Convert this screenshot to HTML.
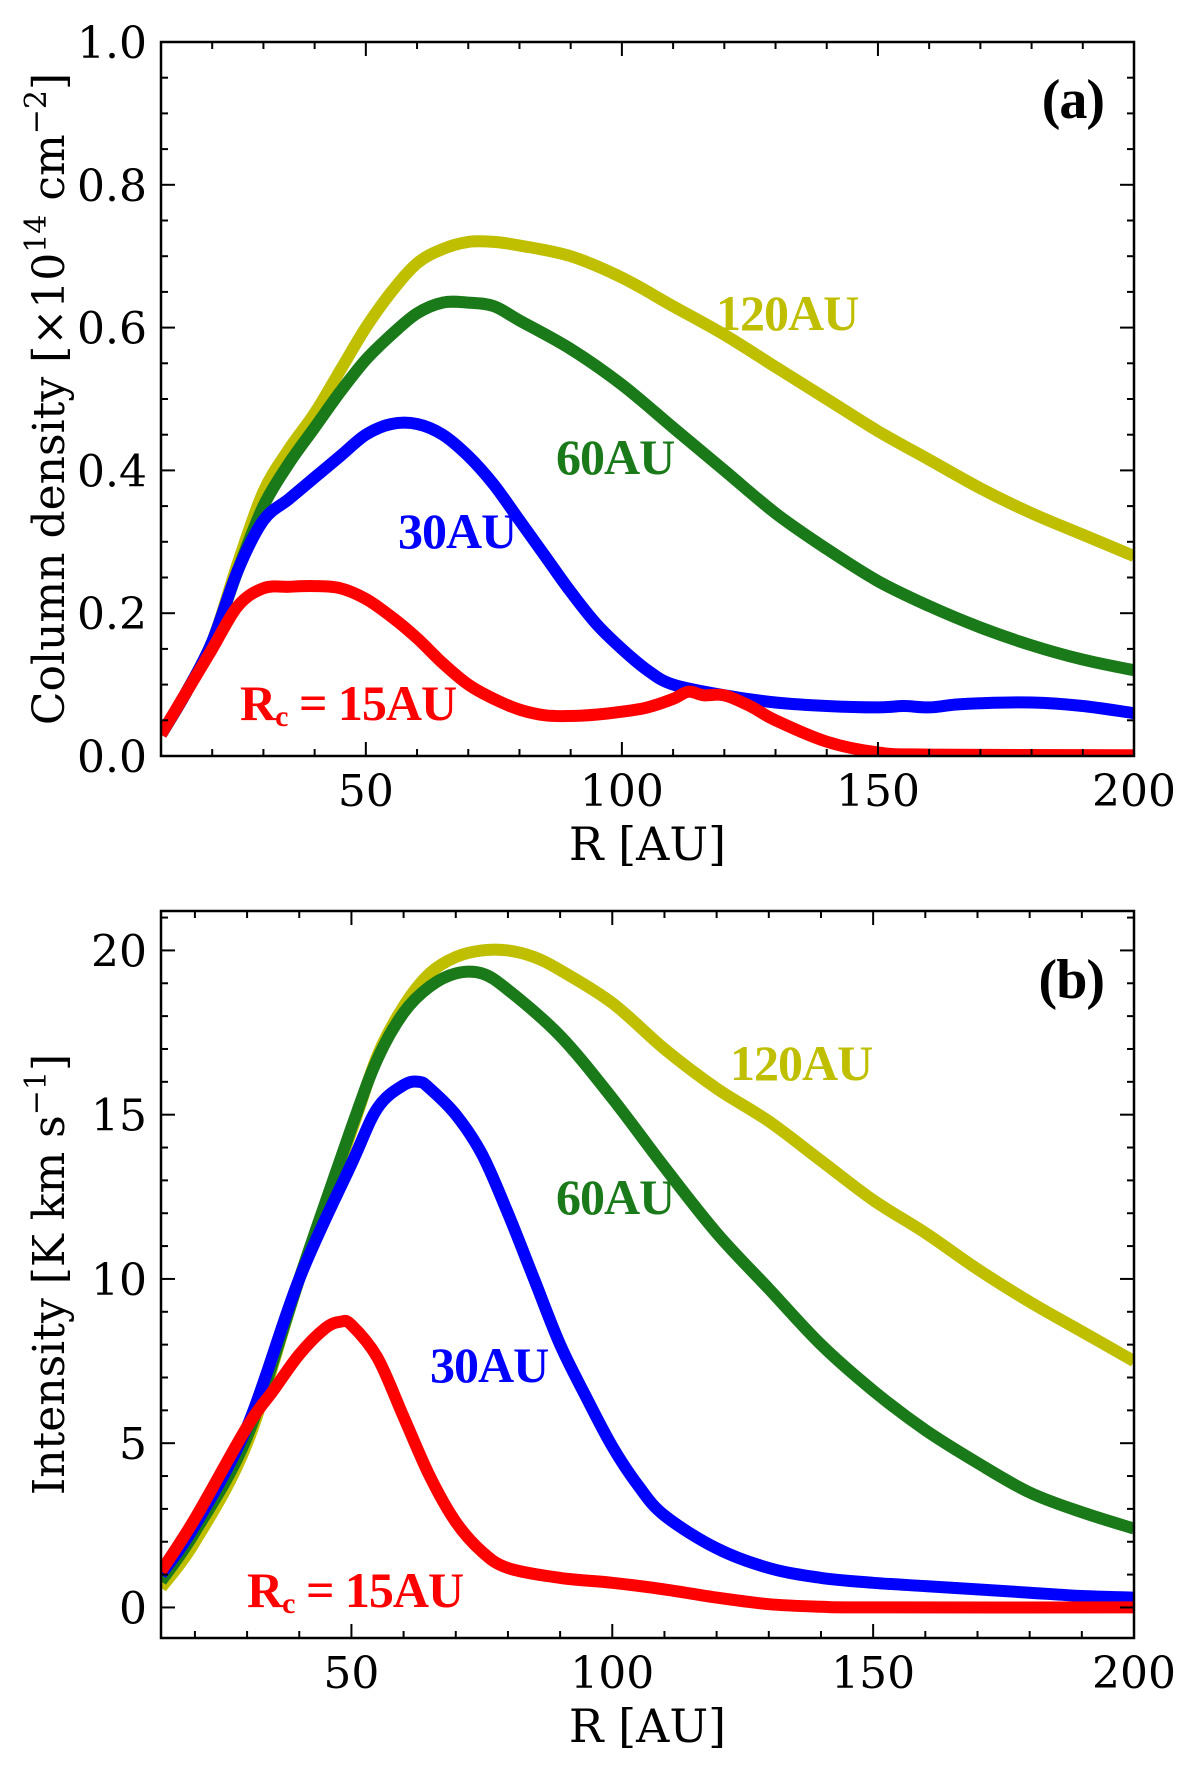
<!DOCTYPE html>
<html><head><meta charset="utf-8">
<style>
html,body{margin:0;padding:0;background:#fff;}
svg{display:block;}
text{font-family:"DejaVu Serif","Liberation Serif",serif;}
.lbl{font-family:"Liberation Serif","DejaVu Serif",serif;font-weight:bold;font-size:50px;letter-spacing:-1px;}
</style></head>
<body>
<svg id="fig" width="1200" height="1777" viewBox="0 0 1200 1777" xmlns="http://www.w3.org/2000/svg"></svg>
<script>
// Panel (a) data: column density
const aX120 = [10,15,20,25,30,35,40,45,50,55,60,65,70,75,80,90,100,110,120,130,140,150,160,170,180,190,200];
const aY120 = [0.03,0.09,0.16,0.27,0.37,0.43,0.48,0.54,0.60,0.65,0.69,0.71,0.72,0.72,0.715,0.70,0.67,0.63,0.59,0.545,0.50,0.455,0.415,0.375,0.34,0.31,0.28];
const aX60 = [10,15,20,25,30,35,40,45,50,55,60,65,70,75,80,90,100,110,120,130,140,150,160,170,180,190,200];
const aY60 = [0.03,0.09,0.16,0.26,0.35,0.41,0.46,0.51,0.555,0.59,0.62,0.635,0.635,0.63,0.61,0.57,0.52,0.46,0.40,0.34,0.29,0.245,0.21,0.18,0.155,0.135,0.12];
const aX30 = [10,15,20,25,30,35,40,45,50,55,60,65,70,75,80,85,90,95,100,105,110,120,130,140,150,155,160,165,170,180,190,200];
const aY30 = [0.03,0.09,0.16,0.26,0.33,0.36,0.39,0.42,0.45,0.465,0.465,0.45,0.42,0.38,0.33,0.28,0.23,0.185,0.15,0.12,0.10,0.085,0.075,0.07,0.068,0.07,0.068,0.072,0.074,0.075,0.07,0.06];
const aX15 = [10,15,20,25,30,35,40,45,50,55,60,65,70,75,80,85,90,95,100,105,110,113,116,120,125,130,140,150,160,200];
const aY15 = [0.03,0.09,0.15,0.21,0.235,0.237,0.238,0.235,0.22,0.195,0.165,0.13,0.10,0.08,0.065,0.057,0.056,0.058,0.062,0.068,0.08,0.09,0.085,0.085,0.07,0.05,0.02,0.005,0.002,0.001];
// Panel (b) data: intensity
const bX120 = [13.5,20,30,40,50,55,60,65,70,75,80,85,90,100,110,120,130,140,150,160,170,180,190,200];
const bY120 = [0.6,2,5,10,14.5,16.8,18.3,19.3,19.8,20,20,19.8,19.4,18.4,17,15.8,14.8,13.6,12.4,11.4,10.3,9.3,8.4,7.5];
const bX60 = [13.5,20,30,40,50,55,60,65,70,75,80,90,100,110,120,130,140,150,160,170,180,190,200];
const bY60 = [0.8,2.3,5.2,10,14.6,16.7,18.1,18.9,19.3,19.3,18.8,17.4,15.5,13.4,11.4,9.7,8.0,6.6,5.4,4.4,3.5,2.9,2.4];
const bX30 = [13.5,20,30,40,50,55,60,63,65,70,75,80,85,90,95,100,105,110,120,130,140,150,160,170,180,190,200];
const bY30 = [1.0,2.5,5.5,10,13.5,15.2,15.9,16,15.8,15,13.8,12,10,8,6.4,4.9,3.7,2.8,1.8,1.2,0.9,0.75,0.65,0.55,0.45,0.35,0.3];
const bX15 = [13.5,20,30,35,40,45,48,50,55,60,65,70,75,80,90,100,110,120,130,140,150,200];
const bY15 = [1.1,2.7,5.5,6.6,7.7,8.5,8.7,8.6,7.6,5.8,4.0,2.6,1.7,1.2,0.9,0.75,0.55,0.3,0.1,0.02,0,0];
const aYTicks = [0.0,0.2,0.4,0.6,0.8,1.0];
const aYTickLabels = ["0.0","0.2","0.4","0.6","0.8","1.0"];
const bYTicks = [0,5,10,15,20];
const bYTickLabels = ["0","5","10","15","20"];
const xTicks = [50,100,150,200];

const NS="http://www.w3.org/2000/svg";
const svg=document.getElementById('fig');
function mk(tag,attrs,parent){const e=document.createElementNS(NS,tag);for(const k in attrs)e.setAttribute(k,attrs[k]);(parent||svg).appendChild(e);return e;}
function smooth(pts){
  let d='M'+pts[0][0].toFixed(1)+','+pts[0][1].toFixed(1);
  for(let i=0;i<pts.length-1;i++){
    const p0=pts[Math.max(0,i-1)],p1=pts[i],p2=pts[i+1],p3=pts[Math.min(pts.length-1,i+2)];
    const c1=[p1[0]+(p2[0]-p0[0])/6,p1[1]+(p2[1]-p0[1])/6];
    const c2=[p2[0]-(p3[0]-p1[0])/6,p2[1]-(p3[1]-p1[1])/6];
    d+='C'+c1[0].toFixed(1)+','+c1[1].toFixed(1)+' '+c2[0].toFixed(1)+','+c2[1].toFixed(1)+' '+p2[0].toFixed(1)+','+p2[1].toFixed(1);
  }
  return d;
}

function panel(p){
  const g=mk('g',{});
  
  
  const sx=v=>p.L+(v-p.x0)/(p.x1-p.x0)*(p.R-p.L);
  const sy=v=>p.B-(v-p.y0)/(p.y1-p.y0)*(p.B-p.T);
  const cid='clip-'+p.name;
  const cp=mk('clipPath',{id:cid},g);
  mk('rect',{x:p.L,y:p.T,width:p.R-p.L,height:p.B-p.T},cp);
  p.series.forEach(s=>{
    const pts=s.x.map((xv,i)=>[sx(xv),sy(s.y[i])]);
    const path=mk('path',{d:smooth(pts),fill:'none',stroke:s.color,'stroke-width':12,'stroke-linejoin':'round','clip-path':'url(#'+cid+')'},g);
    
    
  });
  const fr=mk('rect',{x:p.L,y:p.T,width:p.R-p.L,height:p.B-p.T,fill:'none',stroke:'#000','stroke-width':2.5},g);
  
  
  for(let v=Math.ceil(p.x0/10)*10; v<=p.x1; v+=10){
    const major=(v%50===0);const len=major?14:7;const x=sx(v);
    mk('line',{x1:x,y1:p.B,x2:x,y2:p.B-len,stroke:'#000','stroke-width':2},g);
    mk('line',{x1:x,y1:p.T,x2:x,y2:p.T+len,stroke:'#000','stroke-width':2},g);
  }
  xTicks.forEach(v=>{
    const t=mk('text',{x:sx(v),y:p.B+50,'text-anchor':'middle','font-size':44},g);
    t.textContent=String(v);
    
    
  });
  const start=Math.ceil(p.y0/p.minor-1e-9);
  for(let i=start; i*p.minor<=p.y1+1e-9; i++){
    const v=i*p.minor;
    const isMaj=p.yt.some(m=>Math.abs(m-v)<1e-6);
    const len=isMaj?14:7;const y=sy(v);
    mk('line',{x1:p.L,y1:y,x2:p.L+len,y2:y,stroke:'#000','stroke-width':2},g);
    mk('line',{x1:p.R,y1:y,x2:p.R-len,y2:y,stroke:'#000','stroke-width':2},g);
  }
  p.yt.forEach((v,i)=>{
    const t=mk('text',{x:p.L-14,y:sy(v)+16,'text-anchor':'end','font-size':44},g);
    t.textContent=p.ytl[i];
    
    
  });
  const xl=mk('text',{x:(p.L+p.R)/2,y:p.B+104,'text-anchor':'middle','font-size':46},g);
  xl.textContent='R [AU]';
  
  
  const cy=(p.T+p.B)/2;
  const yl=mk('text',{x:0,y:0,'text-anchor':'middle','font-size':44,transform:`translate(64,${cy}) rotate(-90)`},g);
  yl.innerHTML=p.ylab;
  
  
  const tag=mk('text',{x:1104,y:p.tagY,'text-anchor':'end',class:'lbl','font-size':56},g);
  tag.setAttribute('style','font-size:56px');
  tag.textContent=p.tag;
  
  
  p.labels.forEach(l=>{
    const t=mk('text',{x:l.x,y:l.y,class:'lbl',fill:l.c},g);
    t.innerHTML=l.html;
    
    
  });
}

const Y='#bfbf00',G='#1a7a1a',B='#0000ff',Rd='#ff0000';
panel({name:'panel-a',L:161,R:1134,T:42,B:756,x0:10,x1:200,y0:0,y1:1.0,minor:0.05,yt:aYTicks,ytl:aYTickLabels,
  ylab:'Column density [×10<tspan dy="-18" font-size="30">14</tspan><tspan dy="18"> cm</tspan><tspan dy="-18" font-size="30">−2</tspan><tspan dy="18">]</tspan>',
  tag:'(a)',tagY:118,
  series:[{name:'curve-120au',x:aX120,y:aY120,color:Y},{name:'curve-60au',x:aX60,y:aY60,color:G},{name:'curve-30au',x:aX30,y:aY30,color:B},{name:'curve-15au',x:aX15,y:aY15,color:Rd}],
  labels:[{x:716,y:330,c:Y,html:'120AU',name:'label-120au'},{x:556,y:474,c:G,html:'60AU',name:'label-60au'},{x:398,y:548,c:B,html:'30AU',name:'label-30au'},{x:240,y:720,c:Rd,html:'R<tspan font-size="30" dy="6">c</tspan><tspan dy="-6"> = 15AU</tspan>',name:'label-15au'}]});
panel({name:'panel-b',L:161,R:1134,T:911,B:1638,x0:13.5,x1:200,y0:-0.93,y1:21.2,minor:1,yt:bYTicks,ytl:bYTickLabels,
  ylab:'Intensity [K km s<tspan dy="-18" font-size="30">−1</tspan><tspan dy="18">]</tspan>',
  tag:'(b)',tagY:998,
  series:[{name:'curve-120au',x:bX120,y:bY120,color:Y},{name:'curve-60au',x:bX60,y:bY60,color:G},{name:'curve-30au',x:bX30,y:bY30,color:B},{name:'curve-15au',x:bX15,y:bY15,color:Rd}],
  labels:[{x:730,y:1080,c:Y,html:'120AU',name:'label-120au'},{x:556,y:1214,c:G,html:'60AU',name:'label-60au'},{x:430,y:1382,c:B,html:'30AU',name:'label-30au'},{x:247,y:1607,c:Rd,html:'R<tspan font-size="30" dy="6">c</tspan><tspan dy="-6"> = 15AU</tspan>',name:'label-15au'}]});
</script>
</body></html>
